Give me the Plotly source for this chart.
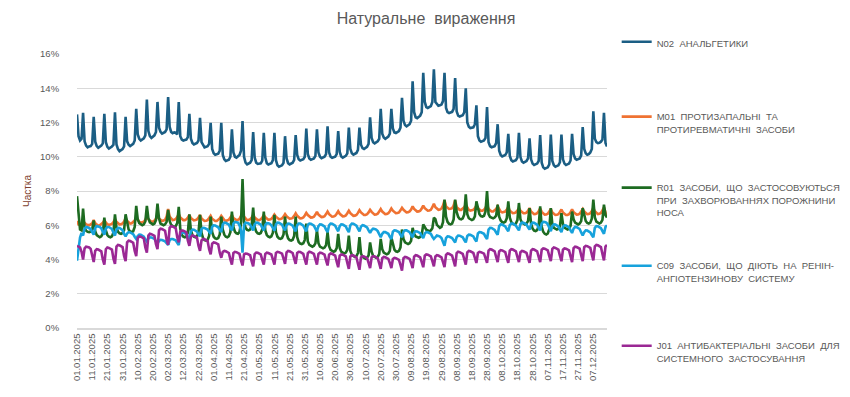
import pandas as pd
import plotly.graph_objects as go

# ---------------- data (daily shares, %) ----------------
start_date = "2025-01-01"

n02 = [
    12.47, 11.20, 10.95, 11.05, 12.56,
    10.90, 10.65, 10.55, 10.60, 10.62, 10.75, 12.33,
    10.88, 10.62, 10.52, 10.58, 10.65, 10.78, 12.50,
    10.85, 10.58, 10.48, 10.52, 10.60, 10.70, 12.60,
    10.72, 10.45, 10.33, 10.38, 10.45, 10.60, 12.33,
    10.90, 10.70, 10.62, 10.68, 10.75, 10.95, 12.80,
    11.30, 11.05, 10.95, 11.00, 11.08, 11.25, 13.34,
    11.50, 11.20, 11.10, 11.18, 11.25, 11.45, 13.20,
    11.70, 11.45, 11.35, 11.40, 11.45, 11.60, 13.48,
    11.75, 11.45, 11.38, 11.42, 11.40, 11.30, 13.20,
    11.20, 11.00, 10.95, 10.98, 11.00, 11.15, 12.50,
    11.05, 10.80, 10.72, 10.75, 10.80, 10.95, 12.27,
    10.85, 10.65, 10.55, 10.58, 10.62, 10.75, 11.98,
    10.45, 10.20, 10.12, 10.15, 10.18, 10.35, 11.98,
    10.10, 9.85, 9.75, 9.78, 9.82, 10.00, 11.60,
    10.25, 10.00, 9.95, 10.00, 10.10, 10.35, 12.08,
    10.00, 9.65, 9.55, 9.60, 9.65, 9.80, 11.44,
    9.95, 9.65, 9.58, 9.60, 9.62, 9.78, 11.40,
    9.95, 9.62, 9.55, 9.58, 9.62, 9.80, 11.40,
    9.80, 9.50, 9.42, 9.45, 9.50, 9.65, 11.20,
    9.90, 9.62, 9.55, 9.60, 9.65, 9.82, 11.27,
    10.10, 9.85, 9.78, 9.80, 9.85, 10.00, 11.65,
    10.15, 9.90, 9.82, 9.85, 9.90, 10.05, 11.60,
    10.25, 10.00, 9.92, 9.96, 10.00, 10.15, 11.77,
    10.25, 10.00, 9.94, 9.96, 10.00, 10.15, 11.50,
    10.28, 10.02, 9.95, 9.98, 10.05, 10.20, 11.70,
    10.45, 10.20, 10.12, 10.15, 10.22, 10.40, 11.70,
    10.70, 10.50, 10.45, 10.50, 10.58, 10.75, 12.30,
    11.10, 10.85, 10.78, 10.82, 10.90, 11.05, 12.80,
    11.35, 11.12, 11.05, 11.10, 11.18, 11.35, 12.80,
    11.65, 11.42, 11.38, 11.42, 11.50, 11.70, 13.44,
    12.10, 11.85, 11.78, 11.82, 11.90, 12.10, 14.40,
    12.60, 12.30, 12.25, 12.30, 12.40, 12.60, 14.90,
    13.20, 12.90, 12.85, 12.88, 12.95, 13.20, 15.10,
    13.20, 13.05, 12.98, 13.00, 13.05, 13.25, 14.90,
    12.85, 12.60, 12.55, 12.58, 12.62, 12.80, 14.60,
    12.65, 12.40, 12.35, 12.38, 12.42, 12.60, 14.00,
    12.00, 11.75, 11.68, 11.70, 11.72, 11.90, 13.00,
    11.20, 10.95, 10.88, 10.90, 10.95, 11.10, 12.90,
    10.85, 10.62, 10.55, 10.58, 10.62, 10.80, 11.90,
    10.35, 10.10, 10.02, 10.05, 10.10, 10.25, 11.34,
    10.05, 9.80, 9.72, 9.75, 9.80, 9.95, 11.40,
    9.98, 9.72, 9.65, 9.70, 9.75, 9.90, 11.07,
    9.85, 9.60, 9.52, 9.55, 9.60, 9.75, 11.27,
    9.65, 9.38, 9.30, 9.32, 9.38, 9.55, 11.30,
    9.75, 9.50, 9.42, 9.45, 9.50, 9.68, 11.30,
    9.85, 9.60, 9.52, 9.55, 9.60, 9.78, 11.34,
    10.15, 9.90, 9.82, 9.85, 9.90, 10.08, 11.73,
    10.45, 10.20, 10.12, 10.15, 10.25, 10.45, 12.66,
    11.05, 10.85, 10.80, 10.82, 10.88, 11.00, 12.56,
    10.80, 10.60,
]

m01 = [
    6.25, 6.05, 6.00, 6.02, 6.20,
    6.15, 6.05, 6.00, 6.00, 6.05, 6.12, 6.30,
    6.12, 6.04, 5.98, 6.00, 6.05, 6.15, 6.28,
    6.15, 6.06, 6.02, 6.03, 6.08, 6.18, 6.35,
    6.20, 6.10, 6.05, 6.06, 6.10, 6.22, 6.40,
    6.25, 6.15, 6.10, 6.12, 6.18, 6.28, 6.45,
    6.30, 6.20, 6.15, 6.16, 6.20, 6.32, 6.50,
    6.35, 6.25, 6.20, 6.22, 6.26, 6.38, 6.55,
    6.40, 6.30, 6.25, 6.27, 6.32, 6.50, 6.95,
    6.50, 6.38, 6.30, 6.32, 6.36, 6.48, 6.65,
    6.45, 6.35, 6.30, 6.30, 6.35, 6.45, 6.60,
    6.42, 6.33, 6.28, 6.30, 6.34, 6.45, 6.60,
    6.40, 6.30, 6.25, 6.26, 6.30, 6.42, 6.55,
    6.38, 6.30, 6.25, 6.25, 6.30, 6.40, 6.55,
    6.40, 6.30, 6.25, 6.27, 6.32, 6.45, 6.60,
    6.42, 6.33, 6.30, 6.32, 6.38, 6.55, 6.75,
    6.50, 6.36, 6.30, 6.31, 6.35, 6.45, 6.60,
    6.45, 6.35, 6.30, 6.30, 6.35, 6.45, 6.60,
    6.46, 6.37, 6.32, 6.33, 6.37, 6.48, 6.62,
    6.50, 6.40, 6.35, 6.36, 6.40, 6.50, 6.65,
    6.52, 6.43, 6.38, 6.39, 6.43, 6.55, 6.70,
    6.55, 6.45, 6.40, 6.41, 6.45, 6.57, 6.72,
    6.60, 6.50, 6.45, 6.46, 6.50, 6.62, 6.78,
    6.62, 6.53, 6.48, 6.49, 6.53, 6.65, 6.80,
    6.65, 6.55, 6.50, 6.51, 6.55, 6.67, 6.82,
    6.67, 6.57, 6.52, 6.53, 6.57, 6.70, 6.85,
    6.70, 6.60, 6.55, 6.56, 6.60, 6.72, 6.88,
    6.75, 6.65, 6.60, 6.60, 6.64, 6.75, 6.90,
    6.78, 6.67, 6.62, 6.63, 6.67, 6.80, 6.95,
    6.80, 6.70, 6.65, 6.66, 6.70, 6.82, 6.98,
    6.85, 6.75, 6.70, 6.71, 6.75, 6.87, 7.02,
    6.90, 6.80, 6.75, 6.76, 6.80, 6.92, 7.10,
    6.95, 6.85, 6.80, 6.81, 6.85, 6.98, 7.15,
    7.00, 6.90, 6.85, 6.86, 6.90, 7.05, 7.25,
    7.05, 6.95, 6.90, 6.92, 6.98, 7.15, 7.45,
    7.10, 7.00, 6.95, 6.96, 7.00, 7.15, 7.45,
    7.05, 6.95, 6.90, 6.90, 6.95, 7.05, 7.20,
    7.00, 6.90, 6.85, 6.86, 6.90, 7.00, 7.15,
    7.00, 6.90, 6.85, 6.85, 6.90, 7.02, 7.20,
    6.95, 6.85, 6.80, 6.80, 6.85, 6.95, 7.10,
    6.90, 6.80, 6.75, 6.76, 6.80, 6.92, 7.05,
    6.85, 6.75, 6.70, 6.71, 6.75, 6.86, 7.00,
    6.85, 6.75, 6.70, 6.70, 6.74, 6.85, 7.00,
    6.80, 6.70, 6.65, 6.66, 6.70, 6.82, 6.98,
    6.78, 6.68, 6.62, 6.63, 6.67, 6.80, 6.95,
    6.75, 6.65, 6.60, 6.61, 6.65, 6.78, 6.92,
    6.74, 6.65, 6.60, 6.60, 6.64, 6.76, 6.92,
    6.76, 6.67, 6.62, 6.63, 6.67, 6.80, 6.95,
    6.80, 6.70, 6.65, 6.66, 6.70, 6.84, 7.00,
    6.82, 6.71, 6.65, 6.67, 6.72, 6.86, 7.05,
    6.75, 6.55,
]

r01 = [
    7.70, 6.55, 5.75, 5.70, 6.97,
    5.85, 5.68, 5.62, 5.60, 5.63, 5.75, 6.28,
    5.65, 5.42, 5.33, 5.30, 5.35, 5.52, 6.45,
    5.70, 5.43, 5.33, 5.30, 5.35, 5.57, 6.64,
    5.85, 5.62, 5.53, 5.50, 5.55, 5.72, 6.64,
    6.05, 5.75, 5.63, 5.60, 5.65, 5.90, 7.13,
    6.35, 6.12, 6.03, 6.00, 6.05, 6.22, 7.13,
    6.40, 6.17, 6.08, 6.05, 6.10, 6.30, 7.26,
    6.40, 6.10, 6.03, 6.00, 6.05, 6.20, 6.90,
    6.25, 6.02, 5.93, 5.90, 5.95, 6.13, 7.07,
    5.80, 5.45, 5.33, 5.30, 5.35, 5.57, 6.64,
    5.70, 5.43, 5.33, 5.30, 5.35, 5.56, 6.60,
    5.55, 5.25, 5.13, 5.10, 5.15, 5.38, 6.50,
    5.60, 5.33, 5.23, 5.20, 5.25, 5.46, 6.50,
    5.75, 5.45, 5.33, 5.30, 5.36, 5.60, 6.80,
    5.90, 5.62, 5.53, 5.50, 5.60, 6.10, 8.70,
    6.20, 5.85, 5.73, 5.70, 5.75, 5.97, 7.03,
    5.90, 5.63, 5.53, 5.50, 5.55, 5.76, 6.80,
    5.70, 5.43, 5.33, 5.30, 5.35, 5.56, 6.60,
    5.60, 5.33, 5.23, 5.20, 5.25, 5.46, 6.50,
    5.52, 5.24, 5.13, 5.10, 5.15, 5.38, 6.50,
    5.30, 5.02, 4.93, 4.90, 4.95, 5.14, 6.10,
    5.05, 4.85, 4.78, 4.75, 4.80, 4.94, 5.70,
    4.95, 4.75, 4.68, 4.65, 4.70, 4.84, 5.60,
    4.78, 4.56, 4.48, 4.45, 4.50, 4.66, 5.50,
    4.68, 4.46, 4.38, 4.35, 4.40, 4.56, 5.40,
    4.50, 4.27, 4.18, 4.15, 4.20, 4.38, 5.30,
    4.35, 4.15, 4.08, 4.05, 4.10, 4.24, 5.00,
    4.45, 4.21, 4.13, 4.10, 4.15, 4.32, 5.20,
    4.60, 4.40, 4.33, 4.30, 4.35, 4.50, 5.30,
    4.85, 4.58, 4.48, 4.45, 4.50, 4.71, 5.75,
    5.20, 5.00, 4.93, 4.90, 4.95, 5.09, 5.85,
    5.50, 5.35, 5.30, 5.27, 5.32, 5.43, 6.05,
    5.90, 5.74, 5.69, 5.66, 5.70, 5.82, 6.44,
    6.35, 6.02, 5.90, 5.85, 5.90, 6.18, 7.50,
    6.50, 6.20, 6.08, 6.05, 6.10, 6.34, 7.50,
    6.78, 6.49, 6.37, 6.34, 6.40, 6.63, 7.80,
    6.65, 6.41, 6.33, 6.30, 6.35, 6.52, 7.40,
    6.95, 6.65, 6.53, 6.50, 6.55, 6.80, 8.00,
    6.65, 6.48, 6.43, 6.40, 6.45, 6.56, 7.20,
    6.50, 6.28, 6.18, 6.15, 6.20, 6.40, 7.40,
    6.45, 6.18, 6.08, 6.05, 6.10, 6.30, 7.30,
    6.35, 6.15, 6.08, 6.05, 6.10, 6.24, 7.00,
    6.10, 5.80, 5.69, 5.66, 5.72, 5.95, 7.10,
    5.92, 5.62, 5.50, 5.46, 5.52, 5.77, 7.00,
    6.05, 5.85, 5.78, 5.75, 5.80, 5.94, 6.70,
    6.08, 5.86, 5.78, 5.75, 5.80, 5.96, 6.80,
    6.35, 6.15, 6.08, 6.05, 6.10, 6.24, 7.00,
    6.55, 6.25, 6.13, 6.10, 6.15, 6.38, 7.50,
    6.45, 6.21, 6.13, 6.10, 6.15, 6.32, 7.20,
    6.60, 6.45,
]

c09 = [
    3.93, 4.80, 5.28, 5.55, 5.40,
    5.80, 5.90, 5.88, 5.85, 5.78, 5.60, 5.45,
    5.85, 5.95, 5.93, 5.90, 5.82, 5.62, 5.45,
    5.80, 5.90, 5.90, 5.86, 5.78, 5.56, 5.40,
    5.75, 5.85, 5.84, 5.80, 5.72, 5.50, 5.35,
    5.52, 5.60, 5.58, 5.55, 5.48, 5.33, 5.20,
    5.37, 5.45, 5.44, 5.40, 5.33, 5.18, 5.05,
    5.22, 5.30, 5.29, 5.26, 5.20, 5.06, 4.95,
    5.08, 5.15, 5.14, 5.12, 5.06, 4.95, 4.85,
    5.12, 5.20, 5.20, 5.18, 5.12, 4.98, 4.85,
    5.45, 5.60, 5.58, 5.55, 5.48, 5.33, 5.20,
    5.65, 5.75, 5.74, 5.70, 5.63, 5.48, 5.35,
    5.78, 5.85, 5.84, 5.80, 5.75, 5.62, 5.50,
    5.90, 6.00, 5.99, 5.95, 5.88, 5.73, 5.60,
    6.05, 6.15, 6.14, 6.10, 6.03, 5.85, 5.70,
    6.10, 6.20, 6.18, 6.15, 6.00, 5.70, 4.40,
    6.00, 6.15, 6.14, 6.10, 6.03, 5.85, 5.70,
    6.05, 6.15, 6.14, 6.10, 6.03, 5.85, 5.70,
    6.02, 6.12, 6.11, 6.08, 6.00, 5.83, 5.68,
    6.05, 6.15, 6.14, 6.10, 6.03, 5.85, 5.70,
    6.00, 6.10, 6.09, 6.05, 5.98, 5.80, 5.65,
    6.00, 6.10, 6.10, 6.06, 5.98, 5.80, 5.65,
    6.02, 6.10, 6.09, 6.05, 5.98, 5.80, 5.65,
    5.95, 6.05, 6.04, 6.00, 5.93, 5.75, 5.60,
    6.00, 6.10, 6.09, 6.05, 5.98, 5.80, 5.65,
    5.95, 6.05, 6.04, 6.00, 5.93, 5.75, 5.60,
    6.00, 6.10, 6.09, 6.05, 5.98, 5.80, 5.65,
    5.92, 6.00, 5.98, 5.95, 5.88, 5.70, 5.55,
    5.72, 5.80, 5.78, 5.75, 5.66, 5.46, 5.30,
    5.50, 5.60, 5.60, 5.57, 5.50, 5.33, 5.20,
    5.62, 5.70, 5.69, 5.66, 5.60, 5.44, 5.30,
    5.62, 5.70, 5.70, 5.66, 5.60, 5.44, 5.30,
    5.58, 5.65, 5.64, 5.60, 5.54, 5.38, 5.25,
    5.52, 5.60, 5.59, 5.56, 5.50, 5.33, 5.20,
    5.30, 5.40, 5.38, 5.34, 5.25, 5.00, 4.80,
    5.25, 5.35, 5.34, 5.30, 5.25, 5.12, 5.00,
    5.30, 5.40, 5.39, 5.36, 5.30, 5.14, 5.00,
    5.38, 5.45, 5.44, 5.40, 5.35, 5.18, 5.05,
    5.52, 5.60, 5.59, 5.56, 5.50, 5.33, 5.20,
    5.75, 5.85, 5.84, 5.80, 5.73, 5.58, 5.45,
    5.95, 6.05, 6.04, 6.00, 5.93, 5.78, 5.65,
    6.00, 6.10, 6.10, 6.06, 5.98, 5.83, 5.70,
    6.06, 6.15, 6.14, 6.10, 6.04, 5.88, 5.75,
    6.05, 6.15, 6.14, 6.10, 6.03, 5.85, 5.70,
    6.10, 6.20, 6.19, 6.15, 6.06, 5.85, 5.65,
    5.95, 6.05, 6.04, 6.00, 5.93, 5.75, 5.60,
    5.90, 6.00, 5.99, 5.95, 5.88, 5.70, 5.55,
    5.80, 5.90, 5.89, 5.85, 5.78, 5.58, 5.40,
    5.60, 5.70, 5.69, 5.65, 5.58, 5.43, 5.30,
    5.85, 5.95, 5.94, 5.90, 5.83, 5.66, 5.50,
    5.90, 6.00,
]

j01 = [
    4.80, 4.75, 4.70, 4.45, 4.00,
    4.65, 4.75, 4.73, 4.70, 4.62, 4.15, 3.85,
    4.50, 4.60, 4.58, 4.55, 4.48, 4.00, 3.70,
    4.60, 4.70, 4.68, 4.65, 4.58, 4.05, 3.75,
    4.75, 4.85, 4.83, 4.80, 4.73, 4.20, 3.90,
    5.00, 5.10, 5.08, 5.05, 4.98, 4.50, 4.20,
    5.25, 5.35, 5.33, 5.30, 5.23, 4.70, 4.40,
    5.40, 5.50, 5.48, 5.45, 5.38, 4.90, 4.60,
    5.70, 5.80, 5.78, 5.75, 5.68, 5.15, 4.85,
    5.85, 5.95, 5.93, 5.90, 5.83, 5.30, 5.00,
    5.62, 5.70, 5.68, 5.65, 5.58, 5.10, 4.80,
    5.32, 5.40, 5.38, 5.35, 5.28, 4.80, 4.50,
    5.12, 5.20, 5.18, 5.15, 5.08, 4.60, 4.30,
    4.92, 5.00, 4.98, 4.95, 4.88, 4.40, 4.10,
    4.45, 4.50, 4.48, 4.45, 4.38, 4.00, 3.70,
    4.38, 4.45, 4.43, 4.40, 4.33, 3.95, 3.65,
    4.30, 4.35, 4.34, 4.30, 4.25, 3.90, 3.60,
    4.32, 4.40, 4.39, 4.36, 4.30, 3.98, 3.70,
    4.33, 4.40, 4.38, 4.35, 4.29, 4.00, 3.70,
    4.38, 4.45, 4.43, 4.40, 4.34, 4.05, 3.75,
    4.42, 4.50, 4.48, 4.45, 4.38, 4.05, 3.75,
    4.38, 4.45, 4.44, 4.40, 4.33, 4.00, 3.70,
    4.37, 4.45, 4.43, 4.40, 4.33, 4.00, 3.70,
    4.33, 4.40, 4.38, 4.35, 4.28, 3.95, 3.65,
    4.28, 4.35, 4.33, 4.30, 4.23, 3.87, 3.55,
    4.22, 4.30, 4.28, 4.25, 4.18, 3.80, 3.45,
    4.18, 4.25, 4.23, 4.20, 4.13, 3.75, 3.40,
    4.12, 4.20, 4.18, 4.15, 4.08, 3.80, 3.50,
    4.12, 4.20, 4.18, 4.15, 4.08, 3.77, 3.45,
    4.08, 4.15, 4.13, 4.10, 4.04, 3.80, 3.50,
    4.03, 4.10, 4.08, 4.05, 3.98, 3.68, 3.35,
    4.08, 4.15, 4.13, 4.10, 4.04, 3.80, 3.50,
    4.17, 4.25, 4.23, 4.20, 4.13, 3.85, 3.55,
    4.22, 4.30, 4.28, 4.25, 4.18, 3.90, 3.60,
    4.18, 4.25, 4.23, 4.20, 4.13, 3.85, 3.55,
    4.27, 4.35, 4.33, 4.30, 4.23, 3.92, 3.60,
    4.37, 4.45, 4.43, 4.40, 4.33, 4.02, 3.70,
    4.42, 4.50, 4.48, 4.45, 4.38, 4.10, 3.80,
    4.38, 4.45, 4.43, 4.40, 4.34, 4.08, 3.80,
    4.52, 4.60, 4.58, 4.55, 4.48, 4.15, 3.85,
    4.47, 4.55, 4.53, 4.50, 4.43, 4.10, 3.80,
    4.52, 4.60, 4.58, 4.55, 4.48, 4.15, 3.85,
    4.43, 4.50, 4.48, 4.45, 4.38, 4.08, 3.80,
    4.52, 4.60, 4.58, 4.55, 4.48, 4.15, 3.85,
    4.57, 4.65, 4.63, 4.60, 4.53, 4.20, 3.90,
    4.62, 4.70, 4.68, 4.65, 4.58, 4.22, 3.90,
    4.57, 4.65, 4.63, 4.60, 4.53, 4.18, 3.85,
    4.67, 4.75, 4.73, 4.70, 4.63, 4.25, 3.90,
    4.72, 4.80, 4.78, 4.75, 4.68, 4.30, 3.95,
    4.77, 4.85, 4.83, 4.80, 4.73, 4.32, 3.95,
    4.75, 4.85,
]

series_names = [
    "N02  АНАЛЬГЕТИКИ",
    "M01  ПРОТИЗАПАЛЬНІ  ТА<br>ПРОТИРЕВМАТИЧНІ  ЗАСОБИ",
    "R01  ЗАСОБИ,  ЩО  ЗАСТОСОВУЮТЬСЯ<br>ПРИ  ЗАХВОРЮВАННЯХ ПОРОЖНИНИ<br>НОСА",
    "C09  ЗАСОБИ,  ЩО  ДІЮТЬ  НА  РЕНІН-<br>АНГІОТЕНЗИНОВУ  СИСТЕМУ",
    "J01  АНТИБАКТЕРІАЛЬНІ  ЗАСОБИ  ДЛЯ<br>СИСТЕМНОГО  ЗАСТОСУВАННЯ",
]
series_values = [n02, m01, r01, c09, j01]
series_colors = ["#1B5E84", "#EF7232", "#1D6B21", "#17A2DC", "#9A2894"]

y_ticks = [0, 2, 4, 6, 8, 10, 12, 14, 16]
y_tick_labels = ["0%", "2%", "4%", "6%", "8%", "10%", "12%", "14%", "16%"]

dates = pd.date_range(start_date, periods=len(n02), freq="D")

# ---------------- figure ----------------
W, H = 850, 397
ml, mr, mt, mb = 69, 234, 46, 77
plot_h = H - mt - mb

legend_tops_px = [21, 96, 167, 245, 325]
legend_keys = ["legend", "legend2", "legend3", "legend4", "legend5"]

fig = go.Figure()
for name, vals, col, lk in zip(series_names, series_values, series_colors, legend_keys):
    fig.add_trace(go.Scatter(
        x=dates, y=vals, mode="lines", name=name,
        line=dict(color=col, width=2.6),
        legend=lk,
    ))

font_family = "Liberation Sans, Arial, sans-serif"
legend_font = dict(family=font_family, size=9.5, color="#595959")
lay = {}
for lk, top_px in zip(legend_keys, legend_tops_px):
    lay[lk] = dict(
        x=1.0 + (626 - (W - mr)) / (W - ml - mr),
        xanchor="left",
        y=(H - mb - top_px) / plot_h,
        yanchor="top",
        font=legend_font,
        bgcolor="rgba(0,0,0,0)",
        valign="top",
        itemwidth=30,
    )

fig.update_layout(
    width=W, height=H,
    margin=dict(l=ml, r=mr, t=mt, b=mb),
    paper_bgcolor="white",
    plot_bgcolor="white",
    showlegend=True,
    title=dict(
        text="Натуральне  вираження",
        x=418 / W, xref="container", xanchor="center",
        y=1 - 10 / H, yref="container", yanchor="middle",
        font=dict(family=font_family, size=16, color="#595959"),
    ),
    xaxis=dict(
        type="date",
        range=[dates[0], dates[-1]],
        tick0=start_date,
        dtick=10 * 86400000,
        tickformat="%d.%m.%Y",
        tickangle=-90,
        tickfont=dict(family=font_family, size=9.5, color="#595959"),
        showgrid=False,
        showline=True, linecolor="#D9D9D9", linewidth=1.5,
        ticks="",
    ),
    yaxis=dict(
        range=[0, 16],
        tickmode="array",
        tickvals=y_ticks,
        ticktext=y_tick_labels,
        tickfont=dict(family=font_family, size=9.5, color="#595959"),
        ticks="outside", ticklen=15, tickcolor="rgba(0,0,0,0)",
        showgrid=True, gridcolor="#D9D9D9", gridwidth=1,
        zeroline=False,
        title=dict(text="Частка", font=dict(family=font_family, size=10, color="#7F3F2F"), standoff=6),
    ),
    **lay,
)

fig.write_html("out.html")
